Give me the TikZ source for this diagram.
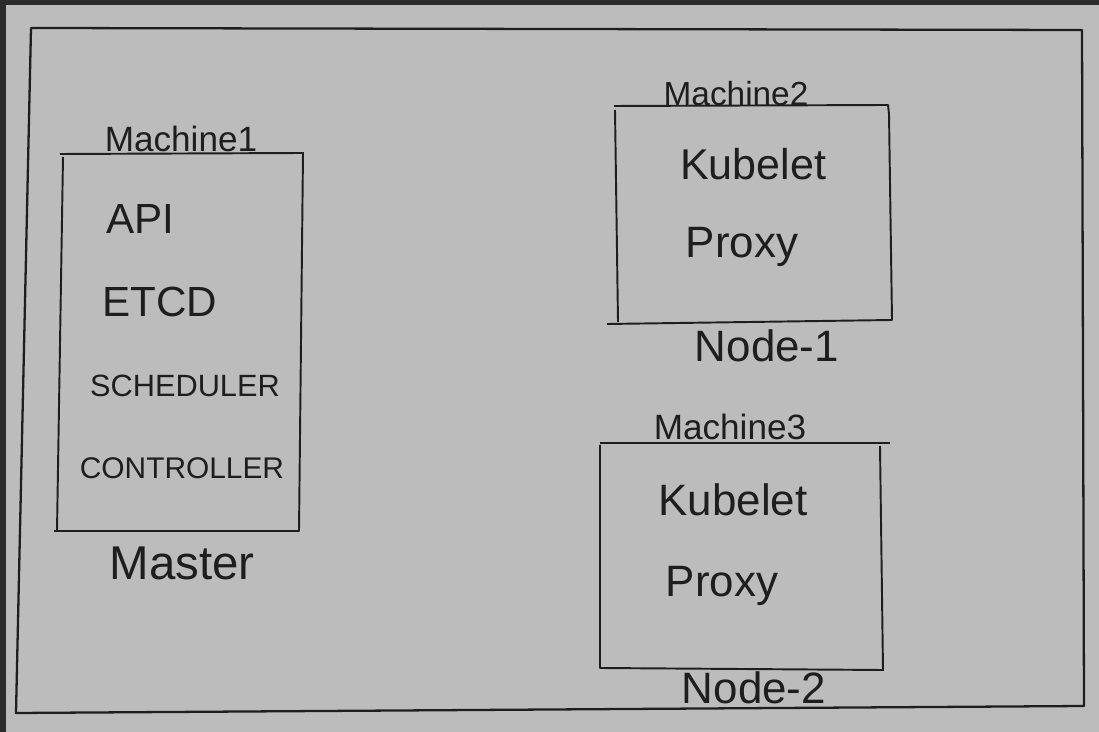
\documentclass[tikz,border=0pt]{standalone}
\usepackage{fontspec}
\setmainfont{Liberation Sans}
\definecolor{paper}{HTML}{BCBCBC}
\definecolor{ink}{HTML}{1E1E1E}
\definecolor{edge}{HTML}{2C2C2C}
\newcommand{\fs}[1]{\fontsize{#1}{#1}\selectfont}
\begin{document}
\begin{tikzpicture}[x=0.02cm,y=-0.02cm,
  frame/.style={draw=ink,line width=1.3pt,line join=round},
  boxline/.style={draw=ink,line width=1.1pt,line join=round},
  lbl/.style={text=ink,inner sep=0pt,anchor=center}]
\useasboundingbox (0,0) rectangle (1099,732);
\fill[edge] (0,0) rectangle (1099,732);
\fill[paper] (6,5) rectangle (1099,732);
% outer frame
\draw[frame] (31,28) -- (1082,30) -- (1084,706) -- (16,713) -- cycle;
% Machine 1 box
\draw[boxline] (60,154) -- (303,153) -- (299,531) -- (54,531);
\draw[boxline] (63,157) -- (57,531);
% Machine 2 box
\draw[boxline] (614,106) -- (888,105) -- (889,114);
\draw[boxline] (889,114) -- (892,320) -- (607,324);
\draw[boxline] (615,110) -- (618,322);
% Machine 3 box
\draw[boxline] (600,443) -- (890,443);
\draw[boxline] (880,446) -- (883,670) -- (600,668) -- (600,445);
% labels
\node[lbl] (m1) at (181,139) {\fs{20pt}Machine1};
\node[lbl] (api) at (140,219) {\fs{24pt}API};
\node[lbl] (etcd) at (160,302) {\fs{24pt}ETCD};
\node[lbl] (sch) at (185,386) {\fs{17.5pt}SCHEDULER};
\node[lbl] (ctl) at (182,468) {\fs{17pt}CONTROLLER};
\node[lbl] (master) at (182,563) {\fs{27pt}Master};
\node[lbl] (m2) at (736,94) {\fs{19pt}Machine2};
\node[lbl] (k1) at (753,164) {\fs{24.5pt}Kubelet};
\node[lbl] (p1) at (742,247) {\fs{25pt}Proxy};
\node[lbl] (n1) at (767,346) {\fs{25pt}Node-1};
\node[lbl] (m3) at (730,427) {\fs{20pt}Machine3};
\node[lbl] (k2) at (733,500) {\fs{25pt}Kubelet};
\node[lbl] (p2) at (722,586) {\fs{25pt}Proxy};
\node[lbl] (n2) at (754,688) {\fs{25pt}Node-2};
\end{tikzpicture}
\end{document}
